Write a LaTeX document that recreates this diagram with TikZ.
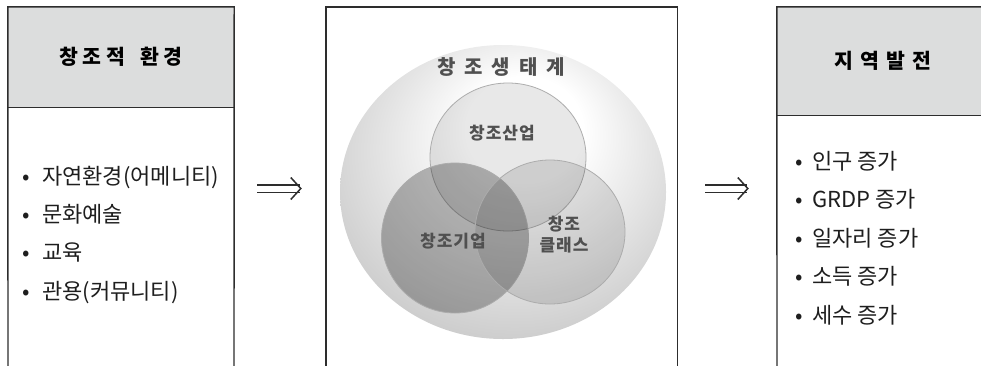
\documentclass[tikz,border=0pt]{standalone}
\usepackage{fontspec}
\setmainfont{Noto Sans CJK KR}
\usetikzlibrary{arrows.meta,shapes.geometric}
\definecolor{hdrfill}{RGB}{220,221,221}
\definecolor{boxcol}{RGB}{45,45,45}
\definecolor{ecoedge}{RGB}{182,182,182}
\definecolor{ecomid}{RGB}{218,218,218}
\definecolor{venntext}{RGB}{80,80,80}
\definecolor{txtcol}{RGB}{30,30,30}
\pgfdeclareradialshading{ecoshade}{\pgfpoint{4bp}{13bp}}{color(0bp)=(white); color(9bp)=(white); color(25bp)=(ecomid); color(40bp)=(ecoedge); color(50bp)=(ecoedge)}
\tikzset{
  boxline/.style={draw=boxcol, line width=1.4pt},
  hdrbox/.style={fill=hdrfill, draw=none, inner sep=0pt, text=black,
    font=\fontsize{20.5}{20.5}\selectfont\bfseries},
  bulletitem/.style={anchor=west, inner sep=0pt, text height=18.5pt, text depth=2pt,
    text=txtcol, font=\fontsize{22}{22}\selectfont},
  flowarrow/.style={draw=boxcol, line width=1.8pt, double=white, double distance=6pt,
    -{Straight Barb[length=10pt, width=22pt, line width=1.5pt]}},
  venn/.style={ellipse, inner sep=0pt, draw=gray!65, line width=0.8pt, fill=black},
  venntxt/.style={inner sep=0pt, text=venntext, align=center,
    font=\fontsize{17}{21}\selectfont\bfseries},
}
\begin{document}
\begin{tikzpicture}[x=1pt,y=-1pt]
\useasboundingbox (0,0) rectangle (981,365);

% left box
\node[hdrbox, minimum width=226pt, minimum height=100pt] (lh) at (121,57)
  {창\hspace{4.5pt}조\hspace{4.5pt}적\hspace{15pt}환\hspace{4.5pt}경\hspace{6pt}};
\draw[boxline] (lh.south west) -- (lh.south east);
\draw[boxline] (8,372) -- (lh.north west) -- (lh.north east) -- (234,372);
\node[bulletitem] (l1) at (20,176) {\makebox[12pt]{•}\hspace{10pt}자연환경(어메니티)};
\node[bulletitem] (l2) at (20,214) {\makebox[12pt]{•}\hspace{10pt}문화예술};
\node[bulletitem] (l3) at (20,252) {\makebox[12pt]{•}\hspace{10pt}교육};
\node[bulletitem] (l4) at (20,291) {\makebox[12pt]{•}\hspace{10pt}관용(커뮤니티)};

% middle box
\node[inner sep=0pt, minimum width=351pt, minimum height=365pt] (mid) at (501.5,189.5) {};
\draw[boxline] (mid.south west) -- (mid.north west) -- (mid.north east) -- (mid.south east);
\node[ellipse, shade, shading=ecoshade, inner sep=0pt, minimum width=326pt, minimum height=294pt] (eco) at (503,192) {};
\node[venn, fill opacity=0.09, minimum width=156pt, minimum height=148pt] (ind) at (508,157) {};
\node[venn, fill opacity=0.27, minimum width=147pt, minimum height=150pt] (ent) at (455,238) {};
\node[venn, fill opacity=0.11, minimum width=150pt, minimum height=144pt] (cls) at (550,232) {};
\node[venntxt, font=\fontsize{20}{20}\selectfont\bfseries] (ecot) at (501,67)
  {창\hspace{9pt}조\hspace{9pt}생\hspace{9pt}태\hspace{9pt}계};
\node[venntxt] (indt) at (502,133) {창\hspace{1pt}조\hspace{1pt}산\hspace{1pt}업};
\node[venntxt] (entt) at (453,241) {창\hspace{1pt}조\hspace{1pt}기\hspace{1pt}업};
\node[venntxt] (clst) at (564,235) {창\hspace{1pt}조\\클\hspace{1pt}래\hspace{1pt}스};

% right box
\node[hdrbox, minimum width=212pt, minimum height=108pt] (rh) at (883,61)
  {지\hspace{7pt}역\hspace{7pt}발\hspace{7pt}전};
\draw[boxline] (rh.south west) -- (rh.south east);
\draw[boxline] (777,372) -- (rh.north west) -- (rh.north east);
\node[bulletitem] (r1) at (793,161) {\makebox[12pt]{•}\hspace{7pt}인구 증가};
\node[bulletitem] (r2) at (793,199.5) {\makebox[12pt]{•}\hspace{7pt}GRDP 증가};
\node[bulletitem] (r3) at (793,238) {\makebox[12pt]{•}\hspace{7pt}일자리 증가};
\node[bulletitem] (r4) at (793,276.5) {\makebox[12pt]{•}\hspace{7pt}소득 증가};
\node[bulletitem] (r5) at (793,315) {\makebox[12pt]{•}\hspace{7pt}세수 증가};

% arrows
\coordinate (ay) at (0,188.5);
\draw[flowarrow, shorten <=23pt, shorten >=24pt] (lh.east |- ay) -- (mid.west |- ay);
\draw[flowarrow, shorten <=28pt, shorten >=28pt] (mid.east |- ay) -- (rh.west |- ay);
\end{tikzpicture}
\end{document}
